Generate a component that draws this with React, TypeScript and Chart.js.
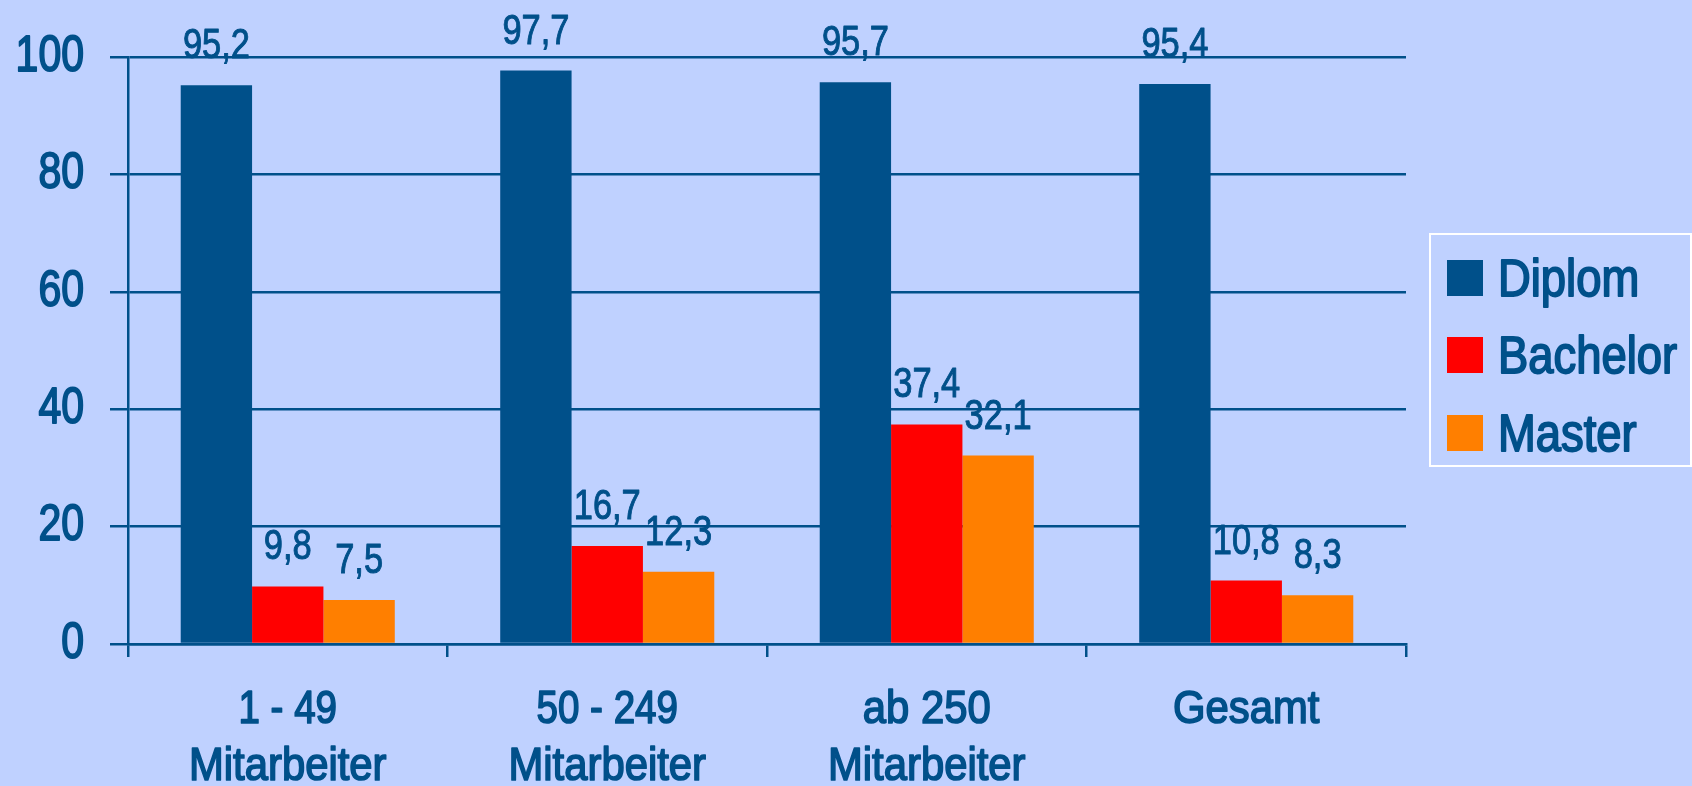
import React, { useEffect, useRef } from "react";
import { Chart, registerables } from "chart.js";

Chart.register(...registerables);

const categories: string[][] = [
  ["1 - 49", "Mitarbeiter"],
  ["50 - 249", "Mitarbeiter"],
  ["ab 250", "Mitarbeiter"],
  ["Gesamt"],
];
const seriesNames = ["Diplom", "Bachelor", "Master"];
const diplom = [95.2, 97.7, 95.7, 95.4];
const bachelor = [9.8, 16.7, 37.4, 10.8];
const master = [7.5, 12.3, 32.1, 8.3];
const yTicks = [0, 20, 40, 60, 80, 100];

const BG = "#BFD1FF";
const DARK = "#00508A";
const COLORS = ["#00508A", "#FF0000", "#FF7F00"];
const FONT = "'Liberation Sans', Arial, sans-serif";
const NARROW_DIGITS = 0.82;
const NARROW_LETTERS = 0.89;

// Emulate a narrow, medium-weight face: squeeze text horizontally and
// thicken it slightly with a stroke in the fill colour.
const narrowText = {
  id: "narrowText",
  beforeDraw(chart: any) {
    const ctx = chart.ctx;
    if (ctx.__narrowed) return;
    const orig = ctx.fillText.bind(ctx);
    const origStroke = ctx.strokeText.bind(ctx);
    ctx.__strokeK = 0.036;
    ctx.fillText = (t: string, x: number, y: number) => {
      const m = /(\d+(?:\.\d+)?)px/.exec(ctx.font);
      const size = m ? parseFloat(m[1]) : 12;
      const sx = /[A-Za-z]/.test(String(t)) ? NARROW_LETTERS : NARROW_DIGITS;
      ctx.save();
      ctx.translate(x, y);
      ctx.scale(sx, 1);
      ctx.lineWidth = size * ctx.__strokeK;
      ctx.lineJoin = "round";
      ctx.strokeStyle = ctx.fillStyle;
      origStroke(t, 0, 0);
      orig(t, 0, 0);
      ctx.restore();
    };
    ctx.__narrowed = true;
  },
};

const valueLabels = {
  id: "valueLabels",
  afterDatasetsDraw(chart: any) {
    const ctx = chart.ctx;
    ctx.save();
    const k = ctx.__strokeK;
    ctx.__strokeK = 0.024;
    ctx.fillStyle = DARK;
    ctx.font = `42px ${FONT}`;
    ctx.textAlign = "center";
    ctx.textBaseline = "alphabetic";
    chart.data.datasets.forEach((ds: any, i: number) => {
      const meta = chart.getDatasetMeta(i);
      meta.data.forEach((bar: any, j: number) => {
        const v = ds.data[j] as number;
        ctx.fillText(v.toFixed(1).replace(".", ","), bar.x, bar.y - 27);
      });
    });
    ctx.__strokeK = k;
    ctx.restore();
  },
};

const boxLegend = {
  id: "boxLegend",
  afterDraw(chart: any) {
    const ctx = chart.ctx;
    ctx.save();
    ctx.strokeStyle = "#FFFFFF";
    ctx.lineWidth = 2;
    ctx.strokeRect(1430, 234, 261, 232);
    const rows = [278, 355, 433];
    ctx.font = `51px ${FONT}`;
    ctx.textAlign = "left";
    ctx.textBaseline = "alphabetic";
    chart.data.datasets.forEach((ds: any, i: number) => {
      const cy = rows[i];
      ctx.fillStyle = ds.backgroundColor;
      ctx.fillRect(1447, cy - 18, 36, 36);
      ctx.fillStyle = DARK;
      ctx.fillText(ds.label, 1498, cy + 18);
    });
    ctx.restore();
  },
};

export default function App() {
  const ref = useRef<HTMLCanvasElement | null>(null);
  useEffect(() => {
    document.body.style.margin = "0";
    const canvas = ref.current!;
    const chart = new Chart(canvas, {
      type: "bar",
      data: {
        labels: categories,
        datasets: [diplom, bachelor, master].map((d, i) => ({
          label: seriesNames[i],
          data: d,
          backgroundColor: COLORS[i],
          borderWidth: 0,
          categoryPercentage: 0.67,
          barPercentage: 1.0,
        })),
      },
      options: {
        animation: false,
        responsive: false,
        maintainAspectRatio: false,
        layout: { padding: { top: 57, right: 286, left: 0, bottom: 0 } },
        plugins: {
          legend: { display: false },
          tooltip: { enabled: false },
        },
        scales: {
          x: {
            grid: {
              display: true,
              drawOnChartArea: false,
              drawTicks: true,
              tickLength: 13,
              color: DARK,
              lineWidth: 2.5,
              offset: true,
            },
            border: { display: true, color: DARK, width: 2.5 },
            ticks: {
              color: DARK,
              font: { family: FONT, size: 47, lineHeight: 1.21 },
              padding: 25,
              maxRotation: 0,
              autoSkip: false,
            },
            afterFit(scale: any) {
              scale.height = 142;
            },
          },
          y: {
            min: 0,
            max: 100,
            afterBuildTicks(scale: any) {
              scale.ticks = yTicks.map((v) => ({ value: v }));
            },
            grid: {
              color: DARK,
              lineWidth: 2.5,
              tickLength: 18,
              drawTicks: true,
            },
            border: { display: true, color: DARK, width: 2.5 },
            ticks: {
              color: DARK,
              font: { family: FONT, size: 50 },
              padding: 26,
            },
            afterFit(scale: any) {
              scale.width = 128;
            },
          },
        },
      },
      plugins: [narrowText, valueLabels, boxLegend],
    });
    return () => chart.destroy();
  }, []);
  return (
    <div style={{ width: 1692, height: 786, background: BG }}>
      <canvas ref={ref} width={1692} height={786} style={{ display: "block" }} />
    </div>
  );
}
